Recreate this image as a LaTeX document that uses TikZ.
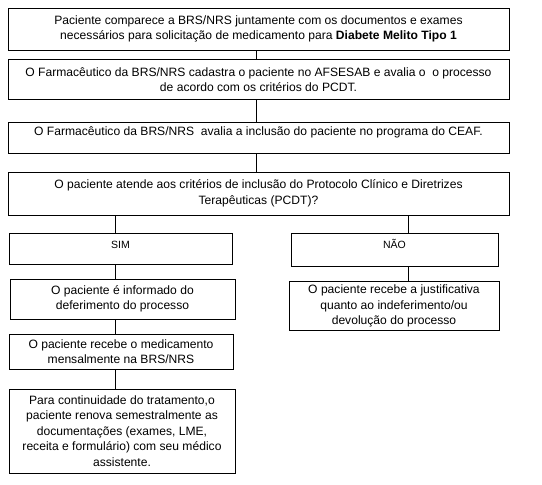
\documentclass[tikz,border=0pt]{standalone}
\usepackage{fontspec}
\setmainfont{Liberation Sans}
\usetikzlibrary{positioning}
\tikzset{
  stepbox/.style={draw, line width=0.8pt, align=center, inner sep=3pt, font=\fontsize{12.1}{15.5}\selectfont},
  topbox/.style={stepbox, inner ysep=0pt},
  link/.style={line width=0.8pt}
}

\begin{document}
\begin{tikzpicture}[x=1pt, y=-1pt]
  \useasboundingbox (0,0) rectangle (542,485);
  % main column
  \node[stepbox, minimum width=501pt, minimum height=42pt] (pac) at (258.5,29) {Paciente comparece a BRS/NRS juntamente com os documentos e exames\\necessários para solicitação de medicamento para \textbf{Diabete Melito Tipo 1}};
  \node[stepbox, minimum width=501pt, minimum height=40pt] (cad) at (258.5,79.5) {O Farmacêutico da BRS/NRS cadastra o paciente no AFSESAB e avalia o\ \ o processo\\de acordo com os critérios do PCDT.};
  \node[topbox, minimum width=501pt, text height=13pt, text depth=18pt] (ceaf) at (258.5,137.5) {O Farmacêutico da BRS/NRS\ \ avalia a inclusão do paciente no programa do CEAF.};
  \node[stepbox, minimum width=501pt, minimum height=43pt] (pcdt) at (258.5,193.5) {O paciente atende aos critérios de inclusão do Protocolo Clínico e Diretrizes\\Terapêuticas (PCDT)?};
  % branches
  \node[topbox, minimum width=223pt, text height=15pt, text depth=16pt, font=\fontsize{10.5}{12}\selectfont] (sim) at (120.5,248.5) {SIM};
  \node[topbox, minimum width=207pt, text height=15pt, text depth=18pt, font=\fontsize{10.5}{12}\selectfont] (nao) at (394.5,249.5) {NÃO};
  \node[stepbox, minimum width=225pt, minimum height=40pt] (inf) at (122.5,299) {O paciente é informado do\\deferimento do processo};
  \node[stepbox, minimum width=210pt, minimum height=46pt] (jus) at (394,306) {O paciente recebe a justificativa\\quanto ao indeferimento/ou\\devolução do processo};
  \node[stepbox, minimum width=224pt, minimum height=35pt] (med) at (121,351.5) {O paciente recebe o medicamento\\mensalmente na BRS/NRS};
  \node[stepbox, minimum width=226pt, minimum height=84pt] (ren) at (122,431) {Para continuidade do tratamento,o\\paciente renova semestralmente as\\documentações (exames, LME,\\receita e formulário) com seu médico\\assistente.};
  % connector columns
  \coordinate (cx) at (256,0);
  \coordinate (lx) at (115,0);
  \coordinate (rx) at (408,0);
  \draw[link] (pac.south -| cx) -- (cad.north -| cx);
  \draw[link] (cad.south -| cx) -- (ceaf.north -| cx);
  \draw[link] (ceaf.south -| cx) -- (pcdt.north -| cx);
  \draw[link] (pcdt.south -| lx) -- (sim.north -| lx);
  \draw[link] (pcdt.south -| rx) -- (nao.north -| rx);
  \draw[link] (sim.south -| lx) -- (inf.north -| lx);
  \draw[link] (inf.south -| lx) -- (med.north -| lx);
  \draw[link] (med.south -| lx) -- (ren.north -| lx);
  \draw[link] (nao.south -| rx) -- (jus.north -| rx);
\end{tikzpicture}
\end{document}
